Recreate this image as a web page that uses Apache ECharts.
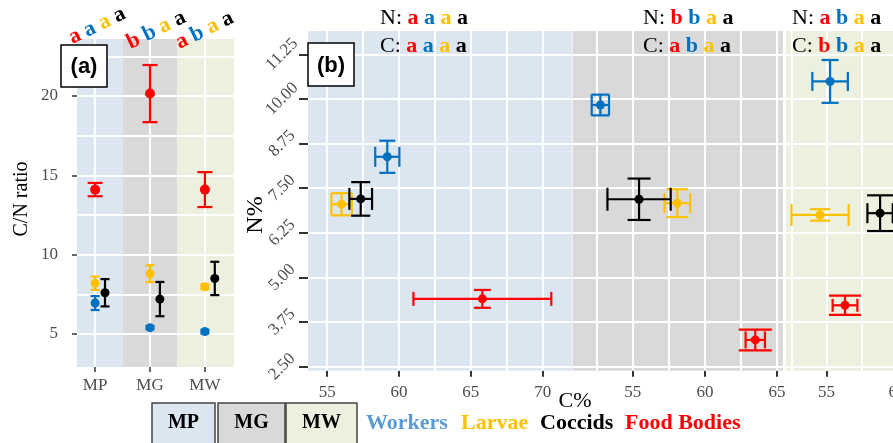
<!DOCTYPE html>
<html>
<head>
<meta charset="utf-8">
<script src="https://cdn.jsdelivr.net/npm/echarts@6/dist/echarts.min.js"></script>
<style>
  html, body { margin: 0; padding: 0; background: #ffffff; }
  #chart { width: 893px; height: 443px; }
</style>
</head>
<body>
<div id="chart"></div>
<script>
// ---- data ----------------------------------------------------------
const sites = ['MP', 'MG', 'MW'];
const groups = ['Workers', 'Larvae', 'Coccids', 'Food Bodies'];

// (a) C/N ratio per site (MP, MG, MW): mean and standard error
const cnWorkers = [6.95, 5.40, 5.15];
const cnWorkersErr = [0.44, 0.10, 0.12];
const cnLarvae = [8.20, 8.80, 7.98];
const cnLarvaeErr = [0.42, 0.53, 0.15];
const cnCoccids = [7.60, 7.20, 8.50];
const cnCoccidsErr = [0.86, 1.08, 1.05];
const cnFood = [14.10, 20.15, 14.10];
const cnFoodErr = [0.42, 1.80, 1.10];

// (b) C% and N% per site, in group order (Workers, Larvae, Coccids, Food Bodies)
const cMP = [59.18, 56.00, 57.33, 65.80];
const cErrMP = [0.84, 0.71, 0.79, 4.80];
const nMP = [8.38, 7.05, 7.20, 4.40];
const nErrMP = [0.45, 0.31, 0.47, 0.25];

const cMG = [52.76, 58.09, 55.44, 63.49];
const cErrMG = [0.60, 0.89, 2.19, 0.67];
const nMG = [9.83, 7.08, 7.19, 3.25];
const nErrMG = [0.29, 0.39, 0.58, 0.29];

const cMW = [55.25, 54.54, 58.80, 56.31];
const cErrMW = [1.26, 2.03, 0.90, 0.88];
const nMW = [10.49, 6.75, 6.80, 4.22];
const nErrMW = [0.60, 0.16, 0.50, 0.27];

// significance letters, ordered Food Bodies, Workers, Larvae, Coccids
const cnLetters = [['a', 'a', 'a', 'a'], ['b', 'b', 'a', 'a'], ['a', 'b', 'a', 'a']];
const nLetters = [['a', 'a', 'a', 'a'], ['b', 'b', 'a', 'a'], ['a', 'b', 'a', 'a']];
const cLetters = [['a', 'a', 'a', 'a'], ['a', 'b', 'a', 'a'], ['b', 'b', 'a', 'a']];

// tick labels
const cnTicks = [5, 10, 15, 20];
const cnGrid = [5, 7.5, 10, 12.5, 15, 17.5, 20, 22.5];
const nTicks = [2.5, 3.75, 5, 6.25, 7.5, 8.75, 10, 11.25];
const cTicksMP = [55, 60, 65, 70];
const cTicksMG = [55, 60, 65];
const cTicksMW = [55, 60, 65];
const cGridMP = [55, 57.5, 60, 62.5, 65, 67.5, 70];
const cGridMG = [52.5, 55, 57.5, 60, 62.5, 65];
const cGridMW = [52.5, 55, 57.5, 60, 62.5, 65];

// ---- styling -------------------------------------------------------
const SERIF = 'Liberation Serif';
const SANS = 'Liberation Sans';
const groupColors = ['#0070C0', '#FFC000', '#000000', '#FF0000'];
const legendColors = ['#5B9BD5', '#FFC000', '#000000', '#FF0000'];
const letterColors = ['#FF0000', '#0070C0', '#FFC000', '#000000'];
const siteFill = ['#DCE6F1', '#D9D9D9', '#EBF1DE'];
const tickColor = '#333333';
const labelColor = '#4D4D4D';

// cap sizes in px: [width of caps on vertical bar, height of caps on horizontal bar]
const capsB = [
  [[16, 20], [21, 22], [19, 22], [17, 14]],
  [[18, 21], [22, 20], [23, 23], [33, 17]],
  [[17, 19], [20, 22], [26, 20], [32, 13]]
];
const capsA = [9, 9, 9, 15];
const dodgeA = [0, 0, 0.18, 0]; // coccids sit slightly right of the site centre

const cnMeans = [cnWorkers, cnLarvae, cnCoccids, cnFood];
const cnErrs = [cnWorkersErr, cnLarvaeErr, cnCoccidsErr, cnFoodErr];
const cSites = [cMP, cMG, cMW];
const cErrSites = [cErrMP, cErrMG, cErrMW];
const nSites = [nMP, nMG, nMW];
const nErrSites = [nErrMP, nErrMG, nErrMW];
const cTickSets = [cTicksMP, cTicksMG, cTicksMW];
const cGridSets = [cGridMP, cGridMG, cGridMW];

// ---- layout --------------------------------------------------------
const gridA = { left: 77, top: 39, width: 157, height: 328 };
const gridsB = [
  { left: 308, top: 31, width: 263.7, height: 339.7, min: 53.66, max: 72.02 },
  { left: 572.5, top: 31, width: 210.5, height: 339.7, min: 50.83, max: 65.41 },
  { left: 786, top: 31, width: 200, height: 339.7, min: 52.12, max: 66.32 }
];
const yRangeA = [2.92, 23.59];
const xRangeA = [0.67, 3.53];
const yRangeB = [2.388, 11.903];

function errorBarRenderer(color, capV, capH) {
  return function (params, api) {
    const x = api.value(0), y = api.value(1), xe = api.value(2), ye = api.value(3);
    const style = { stroke: color, lineWidth: 2.2 };
    const children = [];
    if (ye > 0) {
      const t = api.coord([x, y + ye]);
      const b = api.coord([x, y - ye]);
      children.push({ type: 'line', shape: { x1: t[0], y1: t[1], x2: b[0], y2: b[1] }, style });
      children.push({ type: 'line', shape: { x1: t[0] - capV / 2, y1: t[1], x2: t[0] + capV / 2, y2: t[1] }, style });
      children.push({ type: 'line', shape: { x1: b[0] - capV / 2, y1: b[1], x2: b[0] + capV / 2, y2: b[1] }, style });
    }
    if (xe > 0) {
      const l = api.coord([x - xe, y]);
      const r = api.coord([x + xe, y]);
      children.push({ type: 'line', shape: { x1: l[0], y1: l[1], x2: r[0], y2: r[1] }, style });
      children.push({ type: 'line', shape: { x1: l[0], y1: l[1] - capH / 2, x2: l[0], y2: l[1] + capH / 2 }, style });
      children.push({ type: 'line', shape: { x1: r[0], y1: r[1] - capH / 2, x2: r[0], y2: r[1] + capH / 2 }, style });
    }
    return { type: 'group', children };
  };
}

function gridLines(xs, ys) {
  const data = [];
  xs.forEach(v => data.push({ xAxis: v }));
  ys.forEach(v => data.push({ yAxis: v }));
  return {
    silent: true, symbol: ['none', 'none'], label: { show: false },
    lineStyle: { color: '#ffffff', width: 2, type: 'solid' },
    emphasis: { disabled: true }, animation: false, data
  };
}

const grid = [{
  left: gridA.left, top: gridA.top, width: gridA.width, height: gridA.height,
  show: false, outerBoundsMode: 'none', containLabel: false
}];
gridsB.forEach((g, i) => grid.push({
  left: g.left, top: g.top, width: g.width, height: g.height,
  show: true, backgroundColor: siteFill[i], borderWidth: 0,
  outerBoundsMode: 'none', containLabel: false
}));

const xAxis = [{
  type: 'value', gridIndex: 0, min: xRangeA[0], max: xRangeA[1],
  axisLine: { show: false }, splitLine: { show: false },
  axisTick: { show: true, customValues: [1, 2, 3], length: 5, lineStyle: { color: tickColor, width: 1.5 } },
  axisLabel: {
    customValues: [1, 2, 3], formatter: v => sites[Math.round(v) - 1],
    color: labelColor, fontFamily: SERIF, fontSize: 17, margin: 10
  }
}];
const yAxis = [{
  type: 'value', gridIndex: 0, min: yRangeA[0], max: yRangeA[1],
  axisLine: { show: false }, splitLine: { show: false },
  axisTick: { show: true, customValues: cnTicks, length: 5, lineStyle: { color: tickColor, width: 1.5 } },
  axisLabel: { customValues: cnTicks, color: labelColor, fontFamily: SERIF, fontSize: 17, margin: 19 }
}];
gridsB.forEach((g, i) => {
  xAxis.push({
    type: 'value', gridIndex: i + 1, min: g.min, max: g.max,
    axisLine: { show: false }, splitLine: { show: false },
    axisTick: { show: true, customValues: cTickSets[i], length: 6, lineStyle: { color: tickColor, width: 2 } },
    axisLabel: { customValues: cTickSets[i], color: labelColor, fontFamily: SERIF, fontSize: 17, margin: 13 }
  });
  yAxis.push({
    type: 'value', gridIndex: i + 1, min: yRangeB[0], max: yRangeB[1], show: i === 0,
    axisLine: { show: false }, splitLine: { show: false },
    axisTick: { show: true, customValues: nTicks, length: 9, lineStyle: { color: tickColor, width: 2 } },
    axisLabel: {
      customValues: nTicks, formatter: v => v.toFixed(2), rotate: 45,
      align: 'center', verticalAlign: 'middle',
      color: labelColor, fontFamily: SERIF, fontSize: 17, margin: 26
    }
  });
});

const series = [];
// (a) site bands and grid lines
series.push({
  type: 'line', xAxisIndex: 0, yAxisIndex: 0, data: [], z: 1, silent: true,
  markArea: {
    silent: true, animation: false,
    data: [
      [{ xAxis: xRangeA[0], itemStyle: { color: siteFill[0] } }, { xAxis: 1.5 }],
      [{ xAxis: 1.5, itemStyle: { color: siteFill[1] } }, { xAxis: 2.5 }],
      [{ xAxis: 2.5, itemStyle: { color: siteFill[2] } }, { xAxis: xRangeA[1] }]
    ]
  }
});
series.push({
  type: 'line', xAxisIndex: 0, yAxisIndex: 0, data: [], z: 2, silent: true,
  markLine: gridLines([1, 2, 3], cnGrid)
});
// (a) error bars and points
groups.forEach((g, gi) => {
  const data = sites.map((s, si) => [si + 1 + dodgeA[gi], cnMeans[gi][si], 0, cnErrs[gi][si]]);
  series.push({
    type: 'custom', name: g + ' CN err', xAxisIndex: 0, yAxisIndex: 0, z: 5,
    renderItem: errorBarRenderer(groupColors[gi], capsA[gi], 0),
    data, silent: true
  });
  series.push({
    type: 'scatter', name: g + ' CN', xAxisIndex: 0, yAxisIndex: 0, z: 6,
    symbol: 'circle', symbolSize: gi === 3 ? 10 : 9,
    itemStyle: { color: groupColors[gi], opacity: 1 },
    data: data.map(d => [d[0], d[1]]), silent: true
  });
});

// (b) grid lines, error bars and points per site facet
sites.forEach((s, si) => {
  const ax = si + 1;
  series.push({
    type: 'line', xAxisIndex: ax, yAxisIndex: ax, data: [], z: 2, silent: true,
    markLine: gridLines(cGridSets[si], nTicks)
  });
  groups.forEach((g, gi) => {
    const d = [[cSites[si][gi], nSites[si][gi], cErrSites[si][gi], nErrSites[si][gi]]];
    series.push({
      type: 'custom', name: s + ' ' + g + ' err', xAxisIndex: ax, yAxisIndex: ax, z: 5,
      renderItem: errorBarRenderer(groupColors[gi], capsB[si][gi][0], capsB[si][gi][1]),
      data: d, silent: true
    });
    series.push({
      type: 'scatter', name: s + ' ' + g, xAxisIndex: ax, yAxisIndex: ax, z: 6,
      symbol: 'circle', symbolSize: 9,
      itemStyle: { color: groupColors[gi], opacity: 1 },
      data: d.map(p => [p[0], p[1]]), silent: true
    });
  });
});

// ---- annotations ---------------------------------------------------
const letterRich = {
  r: { fill: letterColors[0], fontFamily: SERIF, fontWeight: 'bold', fontSize: 22 },
  b: { fill: letterColors[1], fontFamily: SERIF, fontWeight: 'bold', fontSize: 22 },
  y: { fill: letterColors[2], fontFamily: SERIF, fontWeight: 'bold', fontSize: 22 },
  k: { fill: letterColors[3], fontFamily: SERIF, fontWeight: 'bold', fontSize: 22 },
  t: { fill: '#000000', fontFamily: SERIF, fontWeight: 'normal', fontSize: 22 }
};
const letterKeys = ['r', 'b', 'y', 'k'];
function letterString(arr) {
  return arr.map((l, i) => '{' + letterKeys[i] + '|' + l + '}').join(' ');
}

const graphic = [];
// tilted letters above the C/N panel
const cnLetterAnchors = [[70, 39], [128, 44], [177, 44]];
cnLetters.forEach((arr, si) => {
  graphic.push({
    type: 'text', x: cnLetterAnchors[si][0], y: cnLetterAnchors[si][1], rotation: 26 * Math.PI / 180, z: 100,
    style: { text: letterString(arr), rich: letterRich, fontFamily: SERIF, fontWeight: 'bold', fontSize: 22, align: 'left', verticalAlign: 'middle' }
  });
});
// N: / C: letters above each facet
const nlAnchors = [380, 643, 792];
sites.forEach((s, si) => {
  graphic.push({
    type: 'text', x: nlAnchors[si], y: 18, z: 100,
    style: { text: '{t|N:} ' + letterString(nLetters[si]), rich: letterRich, fontFamily: SERIF, fontSize: 22, align: 'left', verticalAlign: 'middle' }
  });
  graphic.push({
    type: 'text', x: nlAnchors[si], y: 46, z: 100,
    style: { text: '{t|C:} ' + letterString(cLetters[si]), rich: letterRich, fontFamily: SERIF, fontSize: 22, align: 'left', verticalAlign: 'middle' }
  });
});
// panel tags
[[61, 45, 46, 42, '(a)'], [308, 43, 46, 43, '(b)']].forEach(t => {
  graphic.push({
    type: 'rect', z: 100, shape: { x: t[0], y: t[1], width: t[2], height: t[3] },
    style: { fill: '#ffffff', stroke: '#000000', lineWidth: 1.5 }
  });
  graphic.push({
    type: 'text', z: 101, x: t[0] + t[2] / 2, y: t[1] + t[3] / 2 + 1,
    style: { text: t[4], fontFamily: SANS, fontWeight: 'bold', fontSize: 22, fill: '#000000', align: 'center', verticalAlign: 'middle' }
  });
});
// axis titles
graphic.push({
  type: 'text', z: 100, x: 22, y: 199, rotation: Math.PI / 2,
  style: { text: 'C/N ratio', fontFamily: SERIF, fontSize: 20, fill: '#000000', align: 'center', verticalAlign: 'middle' }
});
graphic.push({
  type: 'text', z: 100, x: 256, y: 215, rotation: Math.PI / 2,
  style: { text: 'N%', fontFamily: SERIF, fontSize: 24, fill: '#000000', align: 'center', verticalAlign: 'middle' }
});
graphic.push({
  type: 'text', z: 100, x: 575, y: 401,
  style: { text: 'C%', fontFamily: SERIF, fontSize: 22, fill: '#000000', align: 'center', verticalAlign: 'middle' }
});
// site key boxes
const siteBoxes = [[152, 63], [218, 67], [286, 71]];
sites.forEach((s, si) => {
  graphic.push({
    type: 'rect', z: 100, shape: { x: siteBoxes[si][0], y: 403, width: siteBoxes[si][1], height: 46 },
    style: { fill: siteFill[si], stroke: '#444444', lineWidth: 1.5 }
  });
  graphic.push({
    type: 'text', z: 101, x: siteBoxes[si][0] + siteBoxes[si][1] / 2, y: 423,
    style: { text: s, fontFamily: SERIF, fontWeight: 'bold', fontSize: 20, fill: '#000000', align: 'center', verticalAlign: 'middle' }
  });
});
// group key
const groupKeyX = [366, 461, 540, 625];
groups.forEach((g, gi) => {
  graphic.push({
    type: 'text', z: 100, x: groupKeyX[gi], y: 423,
    style: { text: g, fontFamily: SERIF, fontWeight: 'bold', fontSize: 22, fill: legendColors[gi], align: 'left', verticalAlign: 'middle' }
  });
});

const chart = echarts.init(document.getElementById('chart'), null, { renderer: 'canvas' });
chart.setOption({
  animation: false,
  backgroundColor: '#ffffff',
  textStyle: { fontFamily: SERIF },
  grid, xAxis, yAxis, series, graphic
});
</script>
</body>
</html>
